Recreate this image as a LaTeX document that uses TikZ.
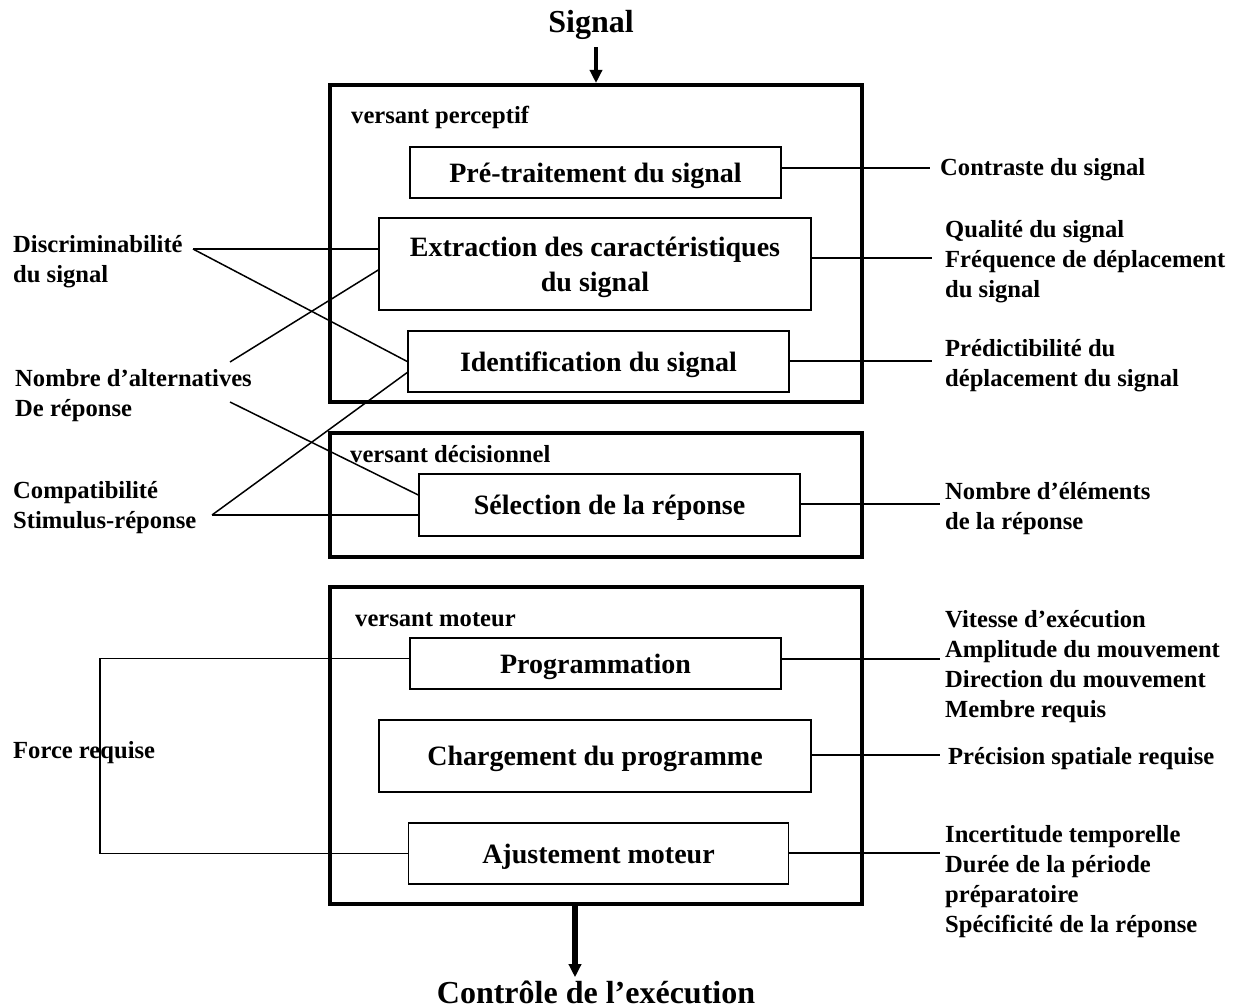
\documentclass[tikz,border=0pt]{standalone}
\usepackage{fontspec}
\setmainfont{Liberation Serif}
\usetikzlibrary{arrows.meta}

\newcommand\headingfont{\fontsize{32}{38}\selectfont\bfseries}
\newcommand\stagefont{\fontsize{28}{35}\selectfont\bfseries}
\newcommand\factorfont{\fontsize{24.6}{30}\selectfont\bfseries}

\begin{document}
\begin{tikzpicture}[x=1pt, y=-1pt, black,
        phase/.style = {draw, line width=4pt, minimum width=532pt, inner sep=0pt},
        stage/.style = {draw, line width=1.5pt, font=\stagefont, align=center, inner sep=0pt, text depth=0pt},
        factor/.style = {font=\factorfont, align=left, anchor=base west, inner sep=0pt},
        heading/.style = {font=\headingfont, anchor=base, inner sep=0pt},
        link/.style = {line width=1.5pt},
        flow/.style = {line width=4pt, -{Triangle[width=12pt, length=13pt]}}]
    \useasboundingbox (0,0) rectangle (1236,1008);

    % the three phases
    \node[phase, minimum height=317pt] (perceptif) at (596,243.5) {};
    \node[phase, minimum height=124pt] (decision) at (596,495) {};
    \node[phase, minimum height=317pt] (moteur) at (596,745.5) {};

    \node[factor] (lblPercept) at (351,124) {versant perceptif};
    \node[factor] (lblDecision) at (350,462) {versant décisionnel};
    \node[factor] (lblMoteur) at (355,626) {versant moteur};

    % stages
    \node[stage, minimum width=371pt, minimum height=51pt] (pretrait) at (595.5,172.5) {Pré-traitement du signal};
    \node[stage, minimum width=432pt, minimum height=92pt] (extract) at (595,264) {Extraction des caractéristiques\\du signal};
    \node[stage, minimum width=381pt, minimum height=61pt] (ident) at (598.5,361.5) {Identification du signal};
    \node[stage, minimum width=381pt, minimum height=62pt] (select) at (609.5,505) {Sélection de la réponse};
    \node[stage, minimum width=371pt, minimum height=51pt] (progr) at (595.5,663.5) {Programmation};
    \node[stage, minimum width=432pt, minimum height=72pt] (charge) at (595,756) {Chargement du programme};
    \node[stage, minimum width=380pt, minimum height=61pt] (ajust) at (598.5,853.5) {Ajustement moteur};

    \node[heading] (signal) at (591,33) {Signal};
    \node[heading] (execution) at (596,1003) {Contrôle de l’exécution};

    \draw[flow, shorten <=7pt] (signal.south -| perceptif.north) -- (perceptif.north);
    \draw[flow, line width=6pt, shorten >=3pt] ([xshift=-21pt]moteur.south) -- ([xshift=-21pt]moteur.south |- execution.north);

    % factors on the left
    \coordinate (lDiscrim) at (193,249);
    \coordinate (lAltA) at (230,362);
    \coordinate (lAltB) at (230,402);
    \coordinate (lCompat) at (212,515);
    \coordinate (lForce) at (100,760);

    \draw[link] (lDiscrim) -- (lDiscrim -| extract.west);
    \draw[link] (lDiscrim) -- (ident.west);
    \draw[link] (lAltA) -- ([yshift=-6pt]extract.west);
    \draw[link] (lAltB) -- ([yshift=10pt]select.west);
    \draw[link] (lCompat) -- (lCompat -| select.west);
    \draw[link] (lCompat) -- ([yshift=-11pt]ident.west);
    \draw[link] ([yshift=5pt]progr.west) -| (lForce) |- (ajust.west);

    % base of a node with several lines = its last line
    \node[factor] (discrim) at (13,283) {Discriminabilité\\du signal};
    \node[factor] (alternatives) at (15,416) {Nombre d’alternatives\\De réponse};
    \node[factor] (compat) at (13,528) {Compatibilité\\Stimulus-réponse};
    \node[factor] (force) at (13,758) {Force requise};

    % factors on the right
    \coordinate (rPretrait) at (930,168);
    \coordinate (rExtract) at (932,258);
    \coordinate (rIdent) at (932,361);
    \coordinate (rSelect) at (940,504);
    \coordinate (rProgr) at (940,659);
    \coordinate (rCharge) at (940,755);
    \coordinate (rAjust) at (940,853);

    \draw[link] (rPretrait -| pretrait.east) -- (rPretrait);
    \draw[link] (rExtract -| extract.east) -- (rExtract);
    \draw[link] (rIdent -| ident.east) -- (rIdent);
    \draw[link] (rSelect -| select.east) -- (rSelect);
    \draw[link] (rProgr -| progr.east) -- (rProgr);
    \draw[link] (rCharge -| charge.east) -- (rCharge);
    \draw[link] (rAjust -| ajust.east) -- (rAjust);

    \node[factor] (contraste) at (940,176) {Contraste du signal};
    \node[factor] (qualite) at (945,298) {Qualité du signal\\Fréquence de déplacement\\du signal};
    \node[factor] (predict) at (945,386) {Prédictibilité du\\déplacement du signal};
    \node[factor] (elements) at (945,529) {Nombre d’éléments\\de la réponse};
    \node[factor] (vitesse) at (945,717) {Vitesse d’exécution\\Amplitude du mouvement\\Direction du mouvement\\Membre requis};
    \node[factor] (precision) at (948,764) {Précision spatiale requise};
    \node[factor] (incertitude) at (945,932) {Incertitude temporelle\\Durée de la période\\préparatoire\\Spécificité de la réponse};

\end{tikzpicture}
\end{document}
